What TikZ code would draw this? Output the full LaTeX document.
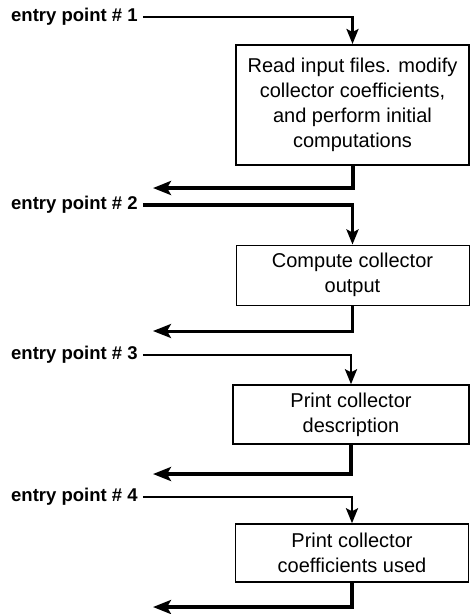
\documentclass[tikz,border=0pt]{standalone}
\usepackage{fontspec}
\setmainfont{Liberation Sans}
\usetikzlibrary{arrows.meta}

\begin{document}
\begin{tikzpicture}[x=1pt,y=-1pt,
  task/.style={draw,line width=1.5pt,minimum width=233pt,align=center,inner sep=0pt,font=\fontsize{20}{25}\selectfont},
  entry/.style={anchor=west,inner sep=5pt,font=\bfseries\fontsize{18.5}{22}\selectfont},
  into/.style={line width=2.5pt,-{Stealth[length=15pt,width=12pt,inset=3pt]}},
  outof/.style={line width=4pt,-{Stealth[length=18pt,width=14pt,inset=4pt]}}]
\useasboundingbox (0,0) rectangle (471,614);

\node[entry] at (6,17)	(e1) {entry point \# 1};
\node[entry] at (6,205)	(e2) {entry point \# 2};
\node[entry] at (6,355)	(e3) {entry point \# 3};
\node[entry] at (6,497)	(e4) {entry point \# 4};

\node[task,line width=2pt,minimum height=120pt] at (352.5,105)	(b1) {Read input files. modify\\collector coefficients,\\and perform initial\\computations};
\node[task,line width=1pt,minimum height=60pt] at (352.5,275)	(b2) {Compute collector\\output};
\node[task,minimum width=236pt,minimum height=59pt] at (351,414.5)	(b3) {Print collector\\description};
\node[task,minimum height=58pt] at (352,553)	(b4) {Print collector\\coefficients used};

\coordinate (x1) at (153,188);
\coordinate (x2) at (153,331);
\coordinate (x3) at (153,474);
\coordinate (x4) at (153,607);

\draw[into] (e1) -| (b1);
\draw[into,line width=3.5pt] (e2) -| (b2);
\draw[into] (e3) -| (b3);
\draw[into] (e4) -| (b4);

\draw[outof] (b1) |- (x1);
\draw[outof,line width=3pt] (b2) |- (x2);
\draw[outof] (b3) |- (x3);
\draw[outof] (b4) |- (x4);
\end{tikzpicture}
\end{document}
